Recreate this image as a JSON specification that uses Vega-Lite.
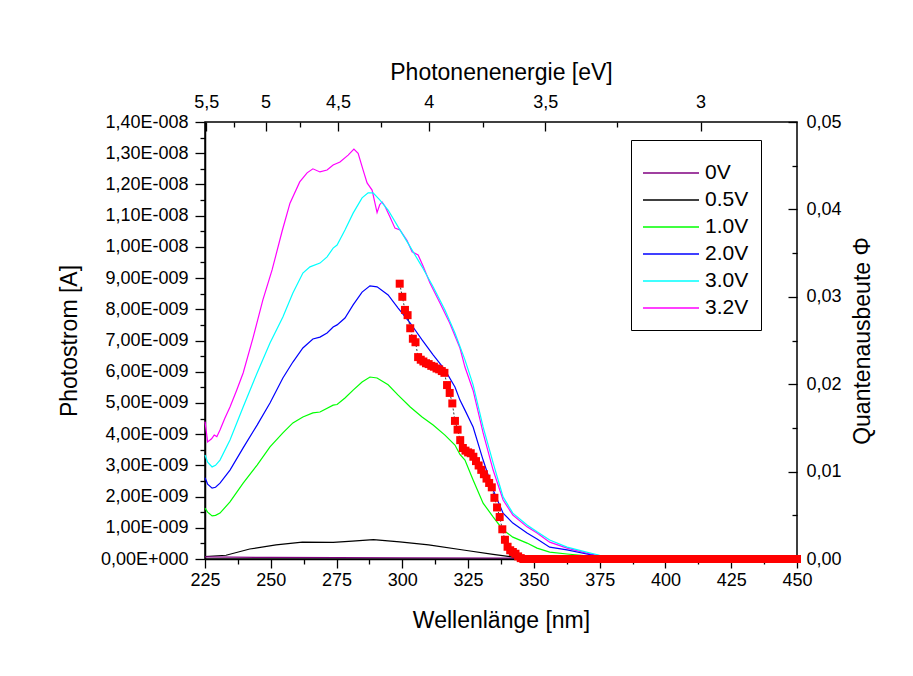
{
  "$schema": "https://vega.github.io/schema/vega-lite/v6.json",
  "width": 592,
  "height": 437,
  "autosize": {"type": "none"},
  "padding": {"left": 205, "top": 122, "right": 116, "bottom": 117},
  "background": "white",
  "config": {
    "view": {"stroke": "black", "strokeWidth": 1.5},
    "font": "Liberation Sans",
    "axis": {
      "grid": false,
      "domainColor": "black",
      "domainWidth": 1.5,
      "tickColor": "black",
      "tickWidth": 1.3,
      "labelColor": "black",
      "titleColor": "black",
      "labelFont": "Liberation Sans",
      "titleFont": "Liberation Sans",
      "labelFontSize": 18,
      "titleFontSize": 23,
      "titleFontWeight": "normal",
      "labelFlush": false,
      "labelOverlap": false
    },
    "legend": {"labelFont": "Liberation Sans", "labelFontSize": 21, "titleFont": "Liberation Sans"}
  },
  "datasets": {
    "curves": [
      {"V": "3.2V", "wl": 225, "I_nA": 4.4}, {"V": "3.2V", "wl": 226, "I_nA": 3.75}, {"V": "3.2V", "wl": 227.5, "I_nA": 3.85}, {"V": "3.2V", "wl": 228.5, "I_nA": 3.97}, {"V": "3.2V", "wl": 229.5, "I_nA": 3.92}, {"V": "3.2V", "wl": 230.7, "I_nA": 4.13}, {"V": "3.2V", "wl": 232.5, "I_nA": 4.5}, {"V": "3.2V", "wl": 234.5, "I_nA": 4.87}, {"V": "3.2V", "wl": 237, "I_nA": 5.4}, {"V": "3.2V", "wl": 239.5, "I_nA": 5.96}, {"V": "3.2V", "wl": 243.3, "I_nA": 7.1}, {"V": "3.2V", "wl": 247, "I_nA": 8.3}, {"V": "3.2V", "wl": 250.5, "I_nA": 9.26}, {"V": "3.2V", "wl": 254.3, "I_nA": 10.5}, {"V": "3.2V", "wl": 257.3, "I_nA": 11.4}, {"V": "3.2V", "wl": 261, "I_nA": 12.08}, {"V": "3.2V", "wl": 263.8, "I_nA": 12.37}, {"V": "3.2V", "wl": 266, "I_nA": 12.5}, {"V": "3.2V", "wl": 268.7, "I_nA": 12.4}, {"V": "3.2V", "wl": 271.4, "I_nA": 12.46}, {"V": "3.2V", "wl": 273.7, "I_nA": 12.62}, {"V": "3.2V", "wl": 276.3, "I_nA": 12.72}, {"V": "3.2V", "wl": 279.4, "I_nA": 12.94}, {"V": "3.2V", "wl": 281.6, "I_nA": 13.13}, {"V": "3.2V", "wl": 283.2, "I_nA": 13.0}, {"V": "3.2V", "wl": 285.1, "I_nA": 12.46}, {"V": "3.2V", "wl": 286.6, "I_nA": 12.05}, {"V": "3.2V", "wl": 288.5, "I_nA": 11.82}, {"V": "3.2V", "wl": 290.4, "I_nA": 11.1}, {"V": "3.2V", "wl": 291.4, "I_nA": 11.35}, {"V": "3.2V", "wl": 292.3, "I_nA": 11.44}, {"V": "3.2V", "wl": 293.4, "I_nA": 11.3}, {"V": "3.2V", "wl": 295.3, "I_nA": 10.96}, {"V": "3.2V", "wl": 297.2, "I_nA": 10.6}, {"V": "3.2V", "wl": 299.1, "I_nA": 10.54}, {"V": "3.2V", "wl": 301.8, "I_nA": 10.2}, {"V": "3.2V", "wl": 303.7, "I_nA": 9.84}, {"V": "3.2V", "wl": 306, "I_nA": 9.74}, {"V": "3.2V", "wl": 308, "I_nA": 9.36}, {"V": "3.2V", "wl": 310.5, "I_nA": 8.84}, {"V": "3.2V", "wl": 314.3, "I_nA": 8.2}, {"V": "3.2V", "wl": 318, "I_nA": 7.56}, {"V": "3.2V", "wl": 321.9, "I_nA": 6.76}, {"V": "3.2V", "wl": 323.8, "I_nA": 6.15}, {"V": "3.2V", "wl": 326.9, "I_nA": 5.4}, {"V": "3.2V", "wl": 330.7, "I_nA": 4.04}, {"V": "3.2V", "wl": 334.5, "I_nA": 2.85}, {"V": "3.2V", "wl": 338.3, "I_nA": 1.89}, {"V": "3.2V", "wl": 342, "I_nA": 1.41}, {"V": "3.2V", "wl": 347.4, "I_nA": 1.03}, {"V": "3.2V", "wl": 351.2, "I_nA": 0.83}, {"V": "3.2V", "wl": 356, "I_nA": 0.54}, {"V": "3.2V", "wl": 362.6, "I_nA": 0.35}, {"V": "3.2V", "wl": 370, "I_nA": 0.19}, {"V": "3.2V", "wl": 375, "I_nA": 0.1}, {"V": "3.2V", "wl": 385, "I_nA": 0.06}, {"V": "3.2V", "wl": 400, "I_nA": 0.05}, {"V": "3.2V", "wl": 425, "I_nA": 0.04}, {"V": "3.2V", "wl": 450, "I_nA": 0.04},
      {"V": "3.0V", "wl": 225, "I_nA": 3.33}, {"V": "3.0V", "wl": 226, "I_nA": 3.1}, {"V": "3.0V", "wl": 227.7, "I_nA": 2.95}, {"V": "3.0V", "wl": 229, "I_nA": 3.0}, {"V": "3.0V", "wl": 230.7, "I_nA": 3.17}, {"V": "3.0V", "wl": 234.5, "I_nA": 3.81}, {"V": "3.0V", "wl": 239.5, "I_nA": 4.87}, {"V": "3.0V", "wl": 244.8, "I_nA": 5.96}, {"V": "3.0V", "wl": 249.7, "I_nA": 6.92}, {"V": "3.0V", "wl": 254.6, "I_nA": 7.75}, {"V": "3.0V", "wl": 258.4, "I_nA": 8.52}, {"V": "3.0V", "wl": 262.2, "I_nA": 9.16}, {"V": "3.0V", "wl": 264.9, "I_nA": 9.36}, {"V": "3.0V", "wl": 268.7, "I_nA": 9.48}, {"V": "3.0V", "wl": 271.4, "I_nA": 9.68}, {"V": "3.0V", "wl": 273.7, "I_nA": 9.96}, {"V": "3.0V", "wl": 275.2, "I_nA": 10.06}, {"V": "3.0V", "wl": 278.2, "I_nA": 10.54}, {"V": "3.0V", "wl": 281.3, "I_nA": 11.08}, {"V": "3.0V", "wl": 284.7, "I_nA": 11.57}, {"V": "3.0V", "wl": 287, "I_nA": 11.73}, {"V": "3.0V", "wl": 288.9, "I_nA": 11.73}, {"V": "3.0V", "wl": 291.5, "I_nA": 11.5}, {"V": "3.0V", "wl": 294.6, "I_nA": 11.18}, {"V": "3.0V", "wl": 298.4, "I_nA": 10.64}, {"V": "3.0V", "wl": 303, "I_nA": 10.0}, {"V": "3.0V", "wl": 307.5, "I_nA": 9.36}, {"V": "3.0V", "wl": 311.7, "I_nA": 8.72}, {"V": "3.0V", "wl": 316.2, "I_nA": 7.98}, {"V": "3.0V", "wl": 320, "I_nA": 7.24}, {"V": "3.0V", "wl": 323.8, "I_nA": 6.38}, {"V": "3.0V", "wl": 326.9, "I_nA": 5.58}, {"V": "3.0V", "wl": 330.7, "I_nA": 4.23}, {"V": "3.0V", "wl": 334.5, "I_nA": 3.08}, {"V": "3.0V", "wl": 338.3, "I_nA": 1.99}, {"V": "3.0V", "wl": 342, "I_nA": 1.47}, {"V": "3.0V", "wl": 347.4, "I_nA": 1.09}, {"V": "3.0V", "wl": 351.2, "I_nA": 0.87}, {"V": "3.0V", "wl": 356, "I_nA": 0.61}, {"V": "3.0V", "wl": 362.6, "I_nA": 0.38}, {"V": "3.0V", "wl": 370, "I_nA": 0.22}, {"V": "3.0V", "wl": 375, "I_nA": 0.12}, {"V": "3.0V", "wl": 385, "I_nA": 0.07}, {"V": "3.0V", "wl": 400, "I_nA": 0.05}, {"V": "3.0V", "wl": 450, "I_nA": 0.04},
      {"V": "2.0V", "wl": 225, "I_nA": 2.6}, {"V": "2.0V", "wl": 226, "I_nA": 2.4}, {"V": "2.0V", "wl": 227.7, "I_nA": 2.27}, {"V": "2.0V", "wl": 229, "I_nA": 2.3}, {"V": "2.0V", "wl": 230.7, "I_nA": 2.43}, {"V": "2.0V", "wl": 234.5, "I_nA": 2.85}, {"V": "2.0V", "wl": 239.5, "I_nA": 3.56}, {"V": "2.0V", "wl": 244.8, "I_nA": 4.29}, {"V": "2.0V", "wl": 249.7, "I_nA": 5.0}, {"V": "2.0V", "wl": 254.6, "I_nA": 5.8}, {"V": "2.0V", "wl": 258.4, "I_nA": 6.31}, {"V": "2.0V", "wl": 262.2, "I_nA": 6.76}, {"V": "2.0V", "wl": 266, "I_nA": 7.05}, {"V": "2.0V", "wl": 268.7, "I_nA": 7.11}, {"V": "2.0V", "wl": 271.4, "I_nA": 7.24}, {"V": "2.0V", "wl": 273.7, "I_nA": 7.43}, {"V": "2.0V", "wl": 275.2, "I_nA": 7.5}, {"V": "2.0V", "wl": 278.2, "I_nA": 7.72}, {"V": "2.0V", "wl": 281.3, "I_nA": 8.14}, {"V": "2.0V", "wl": 284.7, "I_nA": 8.55}, {"V": "2.0V", "wl": 287.7, "I_nA": 8.75}, {"V": "2.0V", "wl": 290.4, "I_nA": 8.72}, {"V": "2.0V", "wl": 294.6, "I_nA": 8.46}, {"V": "2.0V", "wl": 298.4, "I_nA": 8.04}, {"V": "2.0V", "wl": 303, "I_nA": 7.56}, {"V": "2.0V", "wl": 307.5, "I_nA": 7.02}, {"V": "2.0V", "wl": 311.7, "I_nA": 6.54}, {"V": "2.0V", "wl": 316.2, "I_nA": 6.06}, {"V": "2.0V", "wl": 320, "I_nA": 5.51}, {"V": "2.0V", "wl": 321.9, "I_nA": 5.09}, {"V": "2.0V", "wl": 323.8, "I_nA": 4.77}, {"V": "2.0V", "wl": 326.9, "I_nA": 4.23}, {"V": "2.0V", "wl": 330.7, "I_nA": 3.17}, {"V": "2.0V", "wl": 334.5, "I_nA": 2.21}, {"V": "2.0V", "wl": 338.3, "I_nA": 1.47}, {"V": "2.0V", "wl": 342, "I_nA": 1.15}, {"V": "2.0V", "wl": 347.4, "I_nA": 0.83}, {"V": "2.0V", "wl": 351.2, "I_nA": 0.64}, {"V": "2.0V", "wl": 356, "I_nA": 0.38}, {"V": "2.0V", "wl": 362.6, "I_nA": 0.29}, {"V": "2.0V", "wl": 370, "I_nA": 0.16}, {"V": "2.0V", "wl": 375, "I_nA": 0.08}, {"V": "2.0V", "wl": 390, "I_nA": 0.05}, {"V": "2.0V", "wl": 450, "I_nA": 0.03},
      {"V": "1.0V", "wl": 225, "I_nA": 1.63}, {"V": "1.0V", "wl": 226, "I_nA": 1.5}, {"V": "1.0V", "wl": 227.7, "I_nA": 1.38}, {"V": "1.0V", "wl": 229, "I_nA": 1.4}, {"V": "1.0V", "wl": 230.7, "I_nA": 1.47}, {"V": "1.0V", "wl": 234.5, "I_nA": 1.83}, {"V": "1.0V", "wl": 239.5, "I_nA": 2.43}, {"V": "1.0V", "wl": 244.8, "I_nA": 3.01}, {"V": "1.0V", "wl": 249.7, "I_nA": 3.59}, {"V": "1.0V", "wl": 254.6, "I_nA": 4.04}, {"V": "1.0V", "wl": 258.4, "I_nA": 4.36}, {"V": "1.0V", "wl": 262.2, "I_nA": 4.55}, {"V": "1.0V", "wl": 266, "I_nA": 4.68}, {"V": "1.0V", "wl": 268.7, "I_nA": 4.71}, {"V": "1.0V", "wl": 273.7, "I_nA": 4.93}, {"V": "1.0V", "wl": 275.2, "I_nA": 4.95}, {"V": "1.0V", "wl": 278.2, "I_nA": 5.16}, {"V": "1.0V", "wl": 281.3, "I_nA": 5.41}, {"V": "1.0V", "wl": 284.7, "I_nA": 5.67}, {"V": "1.0V", "wl": 287.7, "I_nA": 5.83}, {"V": "1.0V", "wl": 290.4, "I_nA": 5.8}, {"V": "1.0V", "wl": 294.6, "I_nA": 5.58}, {"V": "1.0V", "wl": 298.4, "I_nA": 5.25}, {"V": "1.0V", "wl": 303, "I_nA": 4.87}, {"V": "1.0V", "wl": 307.5, "I_nA": 4.55}, {"V": "1.0V", "wl": 311.7, "I_nA": 4.29}, {"V": "1.0V", "wl": 316.2, "I_nA": 3.97}, {"V": "1.0V", "wl": 320, "I_nA": 3.65}, {"V": "1.0V", "wl": 321.9, "I_nA": 3.35}, {"V": "1.0V", "wl": 323.8, "I_nA": 3.17}, {"V": "1.0V", "wl": 326.9, "I_nA": 2.53}, {"V": "1.0V", "wl": 330.7, "I_nA": 1.79}, {"V": "1.0V", "wl": 334.5, "I_nA": 1.35}, {"V": "1.0V", "wl": 338.3, "I_nA": 0.93}, {"V": "1.0V", "wl": 342, "I_nA": 0.7}, {"V": "1.0V", "wl": 347.4, "I_nA": 0.51}, {"V": "1.0V", "wl": 351.2, "I_nA": 0.35}, {"V": "1.0V", "wl": 356, "I_nA": 0.22}, {"V": "1.0V", "wl": 362.6, "I_nA": 0.16}, {"V": "1.0V", "wl": 370, "I_nA": 0.1}, {"V": "1.0V", "wl": 375, "I_nA": 0.07}, {"V": "1.0V", "wl": 400, "I_nA": 0.04}, {"V": "1.0V", "wl": 450, "I_nA": 0.03},
      {"V": "0.5V", "wl": 225, "I_nA": 0.08}, {"V": "0.5V", "wl": 233, "I_nA": 0.12}, {"V": "0.5V", "wl": 242, "I_nA": 0.32}, {"V": "0.5V", "wl": 252, "I_nA": 0.45}, {"V": "0.5V", "wl": 262, "I_nA": 0.54}, {"V": "0.5V", "wl": 273.7, "I_nA": 0.53}, {"V": "0.5V", "wl": 281, "I_nA": 0.57}, {"V": "0.5V", "wl": 289, "I_nA": 0.62}, {"V": "0.5V", "wl": 299, "I_nA": 0.55}, {"V": "0.5V", "wl": 310, "I_nA": 0.45}, {"V": "0.5V", "wl": 323.8, "I_nA": 0.28}, {"V": "0.5V", "wl": 334.5, "I_nA": 0.15}, {"V": "0.5V", "wl": 342, "I_nA": 0.06}, {"V": "0.5V", "wl": 350, "I_nA": 0.03}, {"V": "0.5V", "wl": 450, "I_nA": 0.02},
      {"V": "0V", "wl": 225, "I_nA": 0.07}, {"V": "0V", "wl": 250, "I_nA": 0.05}, {"V": "0V", "wl": 300, "I_nA": 0.04}, {"V": "0V", "wl": 350, "I_nA": 0.03}, {"V": "0V", "wl": 450, "I_nA": 0.02}
    ],
    "qy": [
      {"wl": 299, "Phi": 0.0315}, {"wl": 300, "Phi": 0.03}, {"wl": 301, "Phi": 0.0285}, {"wl": 302, "Phi": 0.0279}, {"wl": 303, "Phi": 0.0264}, {"wl": 304, "Phi": 0.0252}, {"wl": 305, "Phi": 0.0248}, {"wl": 306, "Phi": 0.0231}, {"wl": 307, "Phi": 0.0228}, {"wl": 308, "Phi": 0.0226}, {"wl": 309, "Phi": 0.0224}, {"wl": 310, "Phi": 0.0223}, {"wl": 311, "Phi": 0.0221}, {"wl": 312, "Phi": 0.022}, {"wl": 313, "Phi": 0.0218}, {"wl": 314, "Phi": 0.0217}, {"wl": 315, "Phi": 0.0215}, {"wl": 316, "Phi": 0.0213}, {"wl": 317, "Phi": 0.0199}, {"wl": 318, "Phi": 0.019}, {"wl": 319, "Phi": 0.0178}, {"wl": 320, "Phi": 0.0158}, {"wl": 321, "Phi": 0.0148}, {"wl": 322, "Phi": 0.0136}, {"wl": 323, "Phi": 0.0127}, {"wl": 324, "Phi": 0.0124}, {"wl": 325, "Phi": 0.0122}, {"wl": 326, "Phi": 0.0121}, {"wl": 327, "Phi": 0.0117}, {"wl": 328, "Phi": 0.0112}, {"wl": 329, "Phi": 0.0107}, {"wl": 330, "Phi": 0.0102}, {"wl": 331, "Phi": 0.0097}, {"wl": 332, "Phi": 0.0092}, {"wl": 333, "Phi": 0.0087}, {"wl": 334, "Phi": 0.0082}, {"wl": 335, "Phi": 0.007}, {"wl": 336, "Phi": 0.0059}, {"wl": 337, "Phi": 0.0048}, {"wl": 338, "Phi": 0.0034}, {"wl": 339, "Phi": 0.0022}, {"wl": 340, "Phi": 0.0014}, {"wl": 341, "Phi": 0.001}, {"wl": 342, "Phi": 0.0008}, {"wl": 343, "Phi": 0.0006}, {"wl": 344, "Phi": 0.0003}, {"wl": 345, "Phi": 0.0001},
      {"wl": 346, "Phi": 0}, {"wl": 348, "Phi": 0}, {"wl": 350, "Phi": 0}, {"wl": 352, "Phi": 0}, {"wl": 354, "Phi": 0}, {"wl": 356, "Phi": 0}, {"wl": 358, "Phi": 0}, {"wl": 360, "Phi": 0}, {"wl": 362, "Phi": 0}, {"wl": 364, "Phi": 0}, {"wl": 366, "Phi": 0}, {"wl": 368, "Phi": 0}, {"wl": 370, "Phi": 0}, {"wl": 372, "Phi": 0}, {"wl": 374, "Phi": 0}, {"wl": 376, "Phi": 0}, {"wl": 378, "Phi": 0}, {"wl": 380, "Phi": 0}, {"wl": 382, "Phi": 0}, {"wl": 384, "Phi": 0}, {"wl": 386, "Phi": 0}, {"wl": 388, "Phi": 0}, {"wl": 390, "Phi": 0}, {"wl": 392, "Phi": 0}, {"wl": 394, "Phi": 0}, {"wl": 396, "Phi": 0}, {"wl": 398, "Phi": 0}, {"wl": 400, "Phi": 0}, {"wl": 402, "Phi": 0}, {"wl": 404, "Phi": 0}, {"wl": 406, "Phi": 0}, {"wl": 408, "Phi": 0}, {"wl": 410, "Phi": 0}, {"wl": 412, "Phi": 0}, {"wl": 414, "Phi": 0}, {"wl": 416, "Phi": 0}, {"wl": 418, "Phi": 0}, {"wl": 420, "Phi": 0}, {"wl": 422, "Phi": 0}, {"wl": 424, "Phi": 0}, {"wl": 426, "Phi": 0}, {"wl": 428, "Phi": 0}, {"wl": 430, "Phi": 0}, {"wl": 432, "Phi": 0}, {"wl": 434, "Phi": 0}, {"wl": 436, "Phi": 0}, {"wl": 438, "Phi": 0}, {"wl": 440, "Phi": 0}, {"wl": 442, "Phi": 0}, {"wl": 444, "Phi": 0}, {"wl": 446, "Phi": 0}, {"wl": 448, "Phi": 0}, {"wl": 450, "Phi": 0}
    ],
    "anchor": [{"wl": 225, "I_nA": 0, "Phi": 0}]
  },
  "layer": [
    {
      "data": {"name": "curves"},
      "mark": {"type": "line", "strokeWidth": 1.2},
      "encoding": {
        "x": {"field": "wl", "type": "quantitative", "scale": {"domain": [225, 450], "nice": false, "zero": false},
          "axis": {"orient": "bottom", "values": [225, 250, 275, 300, 325, 350, 375, 400, 425, 450], "tickSize": 9, "labelPadding": 3, "title": "Wellenlänge [nm]", "titlePadding": 20}},
        "y": {"field": "I_nA", "type": "quantitative", "scale": {"domain": [0, 14], "nice": false},
          "axis": {"orient": "left", "values": [0, 1, 2, 3, 4, 5, 6, 7, 8, 9, 10, 11, 12, 13, 14], "tickSize": 10, "labelPadding": 7, "title": "Photostrom [A]", "titlePadding": 19,
            "labelExpr": "datum.value == 0 ? '0,00E+000' : (datum.value >= 10 ? replace(format(datum.value / 10, '.2f'), '.', ',') + 'E-008' : replace(format(datum.value, '.2f'), '.', ',') + 'E-009')"}},
        "color": {"field": "V", "type": "nominal",
          "scale": {"domain": ["0V", "0.5V", "1.0V", "2.0V", "3.0V", "3.2V"], "range": ["#800080", "#000000", "#00ff00", "#0000ff", "#00ffff", "#ff00ff"]},
          "legend": {"orient": "none", "legendX": 426, "legendY": 18, "title": " ", "titleFontSize": 10, "titlePadding": 0, "strokeColor": "black", "fillColor": "white", "padding": 12,
            "symbolType": "M-2.8,0H2.8", "symbolSize": 400, "symbolStrokeWidth": 1.5, "symbolOffset": 17, "labelOffset": 23, "rowPadding": 6,
            "labelFontSize": 21, "labelColor": "black"}}
      }
    },
    {
      "data": {"name": "anchor"},
      "mark": {"type": "point", "opacity": 0},
      "encoding": {
        "x": {"field": "wl", "type": "quantitative", "scale": {"domain": [225, 450], "nice": false, "zero": false},
          "axis": {"orient": "bottom", "values": [237.5, 262.5, 287.5, 312.5, 337.5, 362.5, 387.5, 412.5, 437.5], "tickSize": 5, "labels": false, "domain": false, "title": null}},
        "y": {"field": "I_nA", "type": "quantitative", "scale": {"domain": [0, 14], "nice": false},
          "axis": {"orient": "left", "values": [0.5, 1.5, 2.5, 3.5, 4.5, 5.5, 6.5, 7.5, 8.5, 9.5, 10.5, 11.5, 12.5, 13.5], "tickSize": 5, "labels": false, "domain": false, "title": null}}
      }
    },
    {
      "data": {"name": "anchor"},
      "mark": {"type": "point", "opacity": 0},
      "encoding": {
        "x": {"field": "wl", "type": "quantitative", "scale": {"domain": [225, 450], "nice": false, "zero": false},
          "axis": {"orient": "top", "values": [225.4545, 248, 275.5556, 310, 354.2857, 413.3333], "ticks": false, "domain": false, "labelPadding": 11,
            "labelExpr": "replace(format(round(2480 / datum.value) / 2, '~g'), '.', ',')", "title": "Photonenenergie [eV]", "titlePadding": 9}}
      }
    },
    {
      "data": {"name": "anchor"},
      "mark": {"type": "point", "opacity": 0},
      "encoding": {
        "x": {"field": "wl", "type": "quantitative", "scale": {"domain": [225, 450], "nice": false, "zero": false},
          "axis": {"orient": "top", "values": [225.4545, 248, 275.5556, 310, 354.2857, 413.3333], "tickSize": -9, "labels": false, "domain": false, "title": null}}
      }
    },
    {
      "data": {"name": "anchor"},
      "mark": {"type": "point", "opacity": 0},
      "encoding": {
        "x": {"field": "wl", "type": "quantitative", "scale": {"domain": [225, 450], "nice": false, "zero": false},
          "axis": {"orient": "top", "values": [236.19, 261.05, 291.76, 330.67, 381.54], "tickSize": -5, "labels": false, "domain": false, "title": null}}
      }
    },
    {
      "data": {"name": "qy"},
      "mark": {"type": "line", "color": "black", "strokeWidth": 0.8, "strokeDash": [2, 2]},
      "encoding": {
        "x": {"field": "wl", "type": "quantitative", "scale": {"domain": [225, 450], "nice": false, "zero": false}, "axis": null},
        "y": {"field": "Phi", "type": "quantitative", "scale": {"domain": [0, 0.05], "nice": false},
          "axis": {"orient": "right", "values": [0, 0.01, 0.02, 0.03, 0.04, 0.05], "ticks": false, "domain": false, "labelPadding": 9,
            "labelExpr": "replace(format(datum.value, '.2f'), '.', ',')", "title": "Quantenausbeute Φ", "titleAngle": 270, "titleBaseline": "top", "titlePadding": 10}}
      }
    },
    {
      "data": {"name": "qy"},
      "mark": {"type": "square", "color": "#ff0000", "size": 64, "opacity": 1, "filled": true},
      "encoding": {
        "x": {"field": "wl", "type": "quantitative", "scale": {"domain": [225, 450], "nice": false, "zero": false}, "axis": null},
        "y": {"field": "Phi", "type": "quantitative", "scale": {"domain": [0, 0.05], "nice": false},
          "axis": {"orient": "right", "values": [0, 0.01, 0.02, 0.03, 0.04, 0.05], "tickSize": -9, "labels": false, "domain": false, "title": null}}
      }
    },
    {
      "data": {"name": "anchor"},
      "mark": {"type": "point", "opacity": 0},
      "encoding": {
        "y": {"field": "Phi", "type": "quantitative", "scale": {"domain": [0, 0.05], "nice": false},
          "axis": {"orient": "right", "values": [0.005, 0.015, 0.025, 0.035, 0.045], "tickSize": -5, "labels": false, "domain": false, "title": null}}
      }
    }
  ],
  "resolve": {"scale": {"x": "independent", "y": "independent"}, "axis": {"x": "independent", "y": "independent"}}
}
